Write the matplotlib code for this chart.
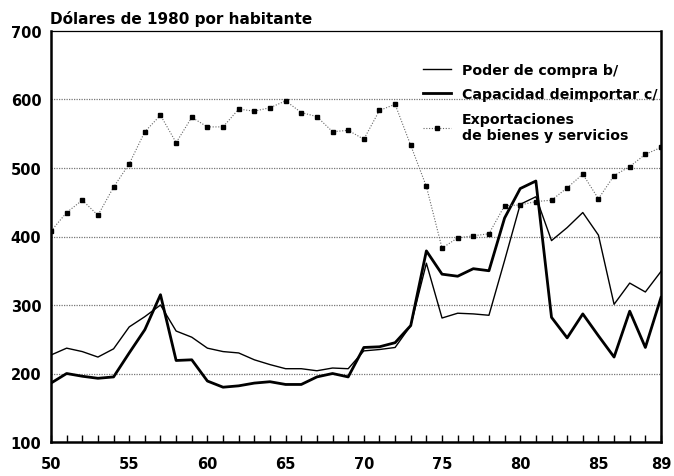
import matplotlib
matplotlib.use("Agg")
import matplotlib.pyplot as plt
import numpy as np

plt.rcParams['font.family'] = ['DejaVu Sans']
plt.rcParams['font.weight'] = 'bold'

years = list(range(1950, 1990))

poder_compra = [227, 237, 232, 224, 236, 268, 283, 300, 262, 253,
                237, 232, 230, 220, 213, 207, 207, 204, 208, 207,
                233, 235, 238, 270, 361, 281, 288, 287, 285, 365,
                447, 458, 394, 413, 435, 402, 301, 332, 319, 349]

capacidad_importar = [186, 200, 196, 193, 195, 230, 264, 315, 219, 220,
                      189, 180, 182, 186, 188, 184, 184, 195, 200, 195,
                      238, 239, 245, 270, 379, 345, 342, 353, 350, 427,
                      470, 481, 282, 252, 287, 255, 224, 291, 238, 311]

exportaciones = [408, 435, 453, 431, 472, 506, 553, 577, 537, 574,
                 560, 560, 586, 583, 588, 598, 581, 575, 553, 555,
                 542, 584, 593, 533, 473, 383, 398, 401, 404, 445,
                 446, 451, 453, 471, 491, 455, 489, 502, 520, 530]

xtick_labels = {1950: '50', 1955: '55', 1960: '60', 1965: '65', 1970: '70',
                1975: '75', 1980: '80', 1985: '85', 1989: '89'}
yticks = [100, 200, 300, 400, 500, 600, 700]

fig = plt.figure(figsize=(6.74, 4.77), dpi=100)
ax = fig.add_axes([51/674, 1-443/477, (661-51)/674, (443-32)/477])

for yv in yticks[1:-1]:
    ax.axhline(yv, color='#777777', lw=0.9, ls=(0, (1, 1)), zorder=1)

ax.plot(years, poder_compra, color='black', lw=1.0, label='Poder de compra b/', zorder=3)
ax.plot(years, capacidad_importar, color='black', lw=2.0, label='Capacidad deimportar c/', zorder=3)
ax.plot(years, exportaciones, color='#666666', lw=0.8, ls=(0, (1, 1.5)), marker='s',
        markersize=3.5, markerfacecolor='black', markeredgecolor='black',
        label='Exportaciones\nde bienes y servicios', zorder=3)

ax.set_xlim(1950, 1989)
ax.set_ylim(100, 700)
ax.set_xticks(years)
ax.set_xticklabels([xtick_labels.get(y, '') for y in years])
ax.set_yticks(yticks)
ax.set_yticklabels([str(v) for v in yticks])
ax.tick_params(axis='x', direction='in', length=5, width=1, pad=10, labelsize=10.5)
ax.tick_params(axis='y', length=0, pad=7, labelsize=10.5)
for lab in ax.get_xticklabels() + ax.get_yticklabels():
    lab.set_fontweight('bold')

ax.spines['left'].set_linewidth(1.8)
ax.spines['bottom'].set_linewidth(1.8)
ax.spines['right'].set_linewidth(1.8)
ax.spines['top'].set_linewidth(0.9)

fig.text(50/674, 1-24/477, 'Dólares de 1980 por habitante', fontsize=11,
         fontweight='bold', ha='left', va='baseline')

leg = fig.legend(loc='upper left', bbox_to_anchor=(410/674, 1-51/477), frameon=False,
                 handlelength=2.0, handletextpad=0.75, labelspacing=0.75,
                 prop={'size': 10.2, 'weight': 'bold'})

fig.savefig('out.png', dpi=100)
